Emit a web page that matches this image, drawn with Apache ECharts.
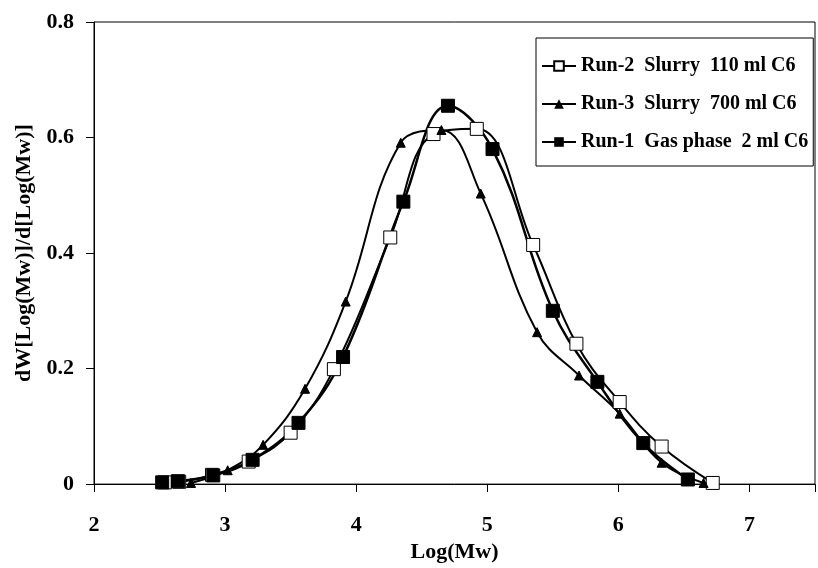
<!DOCTYPE html>
<html>
<head>
<meta charset="utf-8">
<script src="https://cdn.jsdelivr.net/npm/echarts@6/dist/echarts.min.js"></script>
<style>
  html, body { margin: 0; padding: 0; background: #fff; }
  #chart { width: 818px; height: 568px; }
</style>
</head>
<body>
<div id="chart"></div>
<script>
// values
var run2X = [2.54, 2.65, 2.90, 3.18, 3.50, 3.83, 4.26, 4.59, 4.92, 5.35, 5.68, 6.01, 6.33, 6.72];
var run2Y = [0.003, 0.004, 0.016, 0.039, 0.089, 0.199, 0.427, 0.606, 0.615, 0.414, 0.243, 0.142, 0.065, 0.002];

var run3X = [2.74, 3.02, 3.29, 3.61, 3.92, 4.34, 4.65, 4.95, 5.38, 5.70, 6.01, 6.33, 6.65];
var run3Y = [0.002, 0.024, 0.068, 0.165, 0.316, 0.591, 0.613, 0.503, 0.263, 0.188, 0.122, 0.037, 0.002];

var run1X = [2.52, 2.64, 2.91, 3.21, 3.56, 3.90, 4.36, 4.70, 5.04, 5.50, 5.84, 6.19, 6.53];
var run1Y = [0.003, 0.005, 0.015, 0.042, 0.106, 0.220, 0.489, 0.655, 0.580, 0.300, 0.177, 0.071, 0.008];

var seriesNames = ['Run-2  Slurry  110 ml C6', 'Run-3  Slurry  700 ml C6', 'Run-1  Gas phase  2 ml C6'];

function pairs(xs, ys) {
  var out = [];
  for (var i = 0; i < xs.length; i++) out.push([xs[i], ys[i]]);
  return out;
}

var font = 'Liberation Serif, Times New Roman, serif';
var chart = echarts.init(document.getElementById('chart'));

var option = {
  animation: false,
  backgroundColor: '#fff',
  grid: {
    left: 94, top: 22, right: -4, bottom: 80,
    show: true, borderColor: '#000', borderWidth: 1, backgroundColor: 'transparent'
  },
  legend: {
    orient: 'vertical',
    left: 536, top: 38,
    padding: [18, 5, 14, 5],
    itemGap: 18,
    itemWidth: 34,
    itemHeight: 12,
    borderColor: '#000',
    borderWidth: 1,
    backgroundColor: '#fff',
    textStyle: { fontFamily: font, fontWeight: 'bold', fontSize: 20, color: '#000' },
    data: seriesNames
  },
  xAxis: {
    type: 'value',
    min: 2, max: 7.5, interval: 1,
    name: 'Log(Mw)',
    nameLocation: 'middle',
    nameGap: 55,
    nameTextStyle: { fontFamily: font, fontWeight: 'bold', fontSize: 22, color: '#000' },
    axisLine: { lineStyle: { color: '#000', width: 1 } },
    axisTick: { inside: false, length: 8, lineStyle: { color: '#000' } },
    axisLabel: {
      margin: 30, color: '#000', fontFamily: font, fontWeight: 'bold', fontSize: 22,
      formatter: function (v) { return v % 1 === 0 ? String(v) : ''; }
    },
    splitLine: { show: false }
  },
  yAxis: {
    type: 'value',
    min: 0, max: 0.8, interval: 0.2,
    name: 'dW[Log(Mw)]/d[Log(Mw)]',
    nameLocation: 'middle',
    nameGap: 57,
    nameTextStyle: { fontFamily: font, fontWeight: 'bold', fontSize: 22, color: '#000' },
    axisLine: { show: true, lineStyle: { color: '#000', width: 1 } },
    axisTick: { show: true, inside: false, length: 8, lineStyle: { color: '#000' } },
    axisLabel: { margin: 20, color: '#000', fontFamily: font, fontWeight: 'bold', fontSize: 22 },
    splitLine: { show: false }
  },
  series: [
    {
      name: seriesNames[0],
      type: 'line',
      smooth: 0.4,
      data: pairs(run2X, run2Y),
      symbol: 'rect',
      symbolSize: 13,
      lineStyle: { color: '#000', width: 2 },
      itemStyle: { color: '#fff', borderColor: '#000', borderWidth: 1 }
    },
    {
      name: seriesNames[1],
      type: 'line',
      smooth: 0.4,
      data: pairs(run3X, run3Y),
      symbol: 'triangle',
      symbolSize: 9,
      lineStyle: { color: '#000', width: 2 },
      itemStyle: { color: '#000', borderColor: '#000' }
    },
    {
      name: seriesNames[2],
      type: 'line',
      smooth: 0.4,
      data: pairs(run1X, run1Y),
      symbol: 'rect',
      symbolSize: 13,
      lineStyle: { color: '#000', width: 2.5 },
      itemStyle: { color: '#000', borderColor: '#000' }
    }
  ]
};

chart.setOption(option);
</script>
</body>
</html>
